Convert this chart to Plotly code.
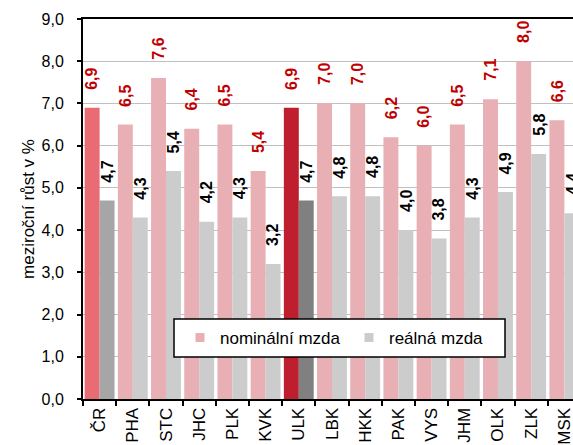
import plotly.graph_objects as go

categories = ["ČR", "PHA", "STC", "JHC", "PLK", "KVK", "ULK", "LBK", "HKK",
              "PAK", "VYS", "JHM", "OLK", "ZLK", "MSK"]
nominal = [6.9, 6.5, 7.6, 6.4, 6.5, 5.4, 6.9, 7.0, 7.0, 6.2, 6.0, 6.5, 7.1, 8.0, 6.6]
real = [4.7, 4.3, 5.4, 4.2, 4.3, 3.2, 4.7, 4.8, 4.8, 4.0, 3.8, 4.3, 4.9, 5.8, 4.4]
series_names = ["nominální mzda", "reálná mzda"]
y_title = "meziroční růst v %"

FONT = "Liberation Sans, Arial, sans-serif"
NOM = "#E8AFB4"
REAL = "#CCCCCC"
special = {"ČR": ("#E96B73", "#A6A6A6"), "ULK": ("#BE1E2D", "#808080")}
nom_colors = [special.get(c, (NOM, REAL))[0] for c in categories]
real_colors = [special.get(c, (NOM, REAL))[1] for c in categories]

W, H = 573, 445
ML, MR, MT, MB = 83, 0, 19, 46
XMAX = 14.26
BARGAP = 0.1
cat_px = (W - ML - MR) / (XMAX + 0.5)
bar_px = cat_px * (1 - BARGAP) / 2
PW, PH = W - ML - MR, H - MT - MB

def fmt(v):
    return f"{v:.1f}".replace(".", ",")

fig = go.Figure()
fig.add_bar(x=categories, y=nominal, name=series_names[0], marker=dict(color=nom_colors, line=dict(width=0)),
            showlegend=False, hoverinfo="x+y")
fig.add_bar(x=categories, y=real, name=series_names[1], marker=dict(color=real_colors, line=dict(width=0)),
            showlegend=False, hoverinfo="x+y")
fig.add_scatter(x=[None], y=[None], mode="markers", name=series_names[0],
                marker=dict(symbol="square", size=9, color=NOM))
fig.add_scatter(x=[None], y=[None], mode="markers", name=series_names[1],
                marker=dict(symbol="square", size=9, color=REAL))

annotations = []
for c, v in zip(categories, nominal):
    annotations.append(dict(x=c, y=v, xref="x", yref="y", text=fmt(v), textangle=-90,
                            showarrow=False, xanchor="center", yanchor="bottom",
                            xshift=-bar_px / 2, yshift=16,
                            font=dict(family=FONT, size=16, color="#C00000", weight="bold")))
for c, v in zip(categories, real):
    annotations.append(dict(x=c, y=v, xref="x", yref="y", text=fmt(v), textangle=-90,
                            showarrow=False, xanchor="center", yanchor="bottom",
                            xshift=bar_px / 2, yshift=16,
                            font=dict(family=FONT, size=16, color="#000000", weight="bold")))

fig.update_layout(
    width=W, height=H, template="none",
    margin=dict(l=ML, r=MR, t=MT, b=MB, pad=0),
    paper_bgcolor="white", plot_bgcolor="white",
    barmode="group", bargap=BARGAP, bargroupgap=0,
    separators=", ",
    font=dict(family=FONT, size=16, color="#000000"),
    annotations=annotations,
    showlegend=True,
    legend=dict(orientation="h", x=(180 - ML) / PW, xanchor="left",
                y=(399 - 338) / PH, yanchor="middle",
                bgcolor="rgba(0,0,0,0)", borderwidth=0,
                font=dict(family=FONT, size=17, color="#000000"),
                itemwidth=30, entrywidth=124, entrywidthmode="pixels"),
    shapes=[dict(type="rect", xref="paper", yref="paper",
                 x0=(174 - ML) / PW, x1=(505 - ML) / PW,
                 y0=(399 - 357) / PH, y1=(399 - 319) / PH,
                 line=dict(color="#000000", width=1.5), fillcolor="white", layer="above")],
    xaxis=dict(type="category", range=[-0.5, XMAX], automargin=False,
               showline=True, linecolor="#000000", linewidth=2, mirror=True,
               ticks="outside", tickson="boundaries", ticklen=5, tickcolor="#000000", tickwidth=1.5,
               tickangle=-90, tickfont=dict(family=FONT, size=17, color="#000000"),
               showgrid=False, zeroline=False),
    yaxis=dict(range=[0, 9], dtick=1, tick0=0, tickformat=".1f", automargin=False,
               showline=True, linecolor="#000000", linewidth=2,
               ticks="outside", ticklen=4, tickcolor="#000000", tickwidth=1.5,
               ticklabelstandoff=10,
               tickfont=dict(family=FONT, size=16, color="#000000"),
               showgrid=True, gridcolor="#C0C0C0", gridwidth=1.3, zeroline=False,
               title=dict(text=y_title, font=dict(family=FONT, size=17, color="#000000"), standoff=3)),
)

fig.write_html("out.html", config={"displayModeBar": False},
               post_script="document.body.style.margin='0';document.body.style.overflow='hidden';")
